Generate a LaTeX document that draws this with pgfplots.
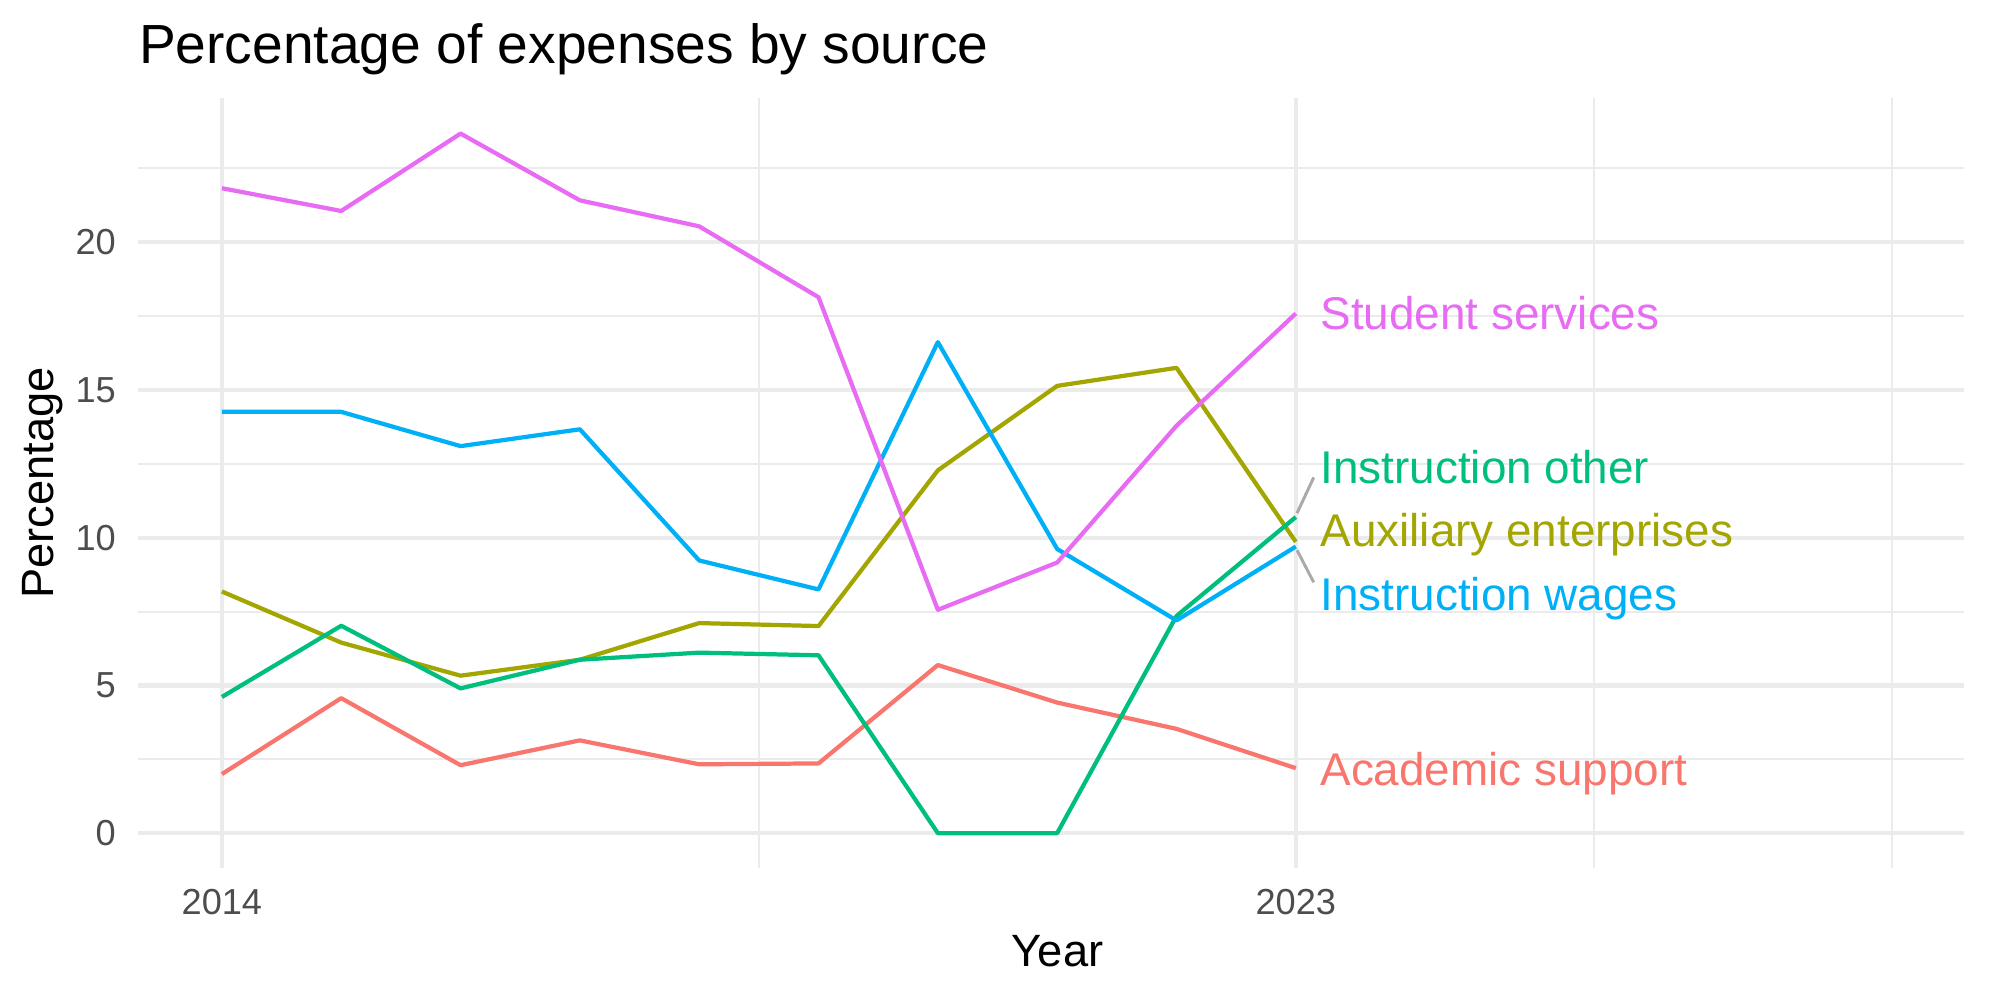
\documentclass[border=0pt]{standalone}
\usepackage{fontspec}
\setmainfont{Liberation Sans}
\usepackage{pgfplots}
\pgfplotsset{compat=1.18}
\definecolor{cAS}{HTML}{F8766D}
\definecolor{cAE}{HTML}{A3A500}
\definecolor{cIO}{HTML}{00BF7D}
\definecolor{cIW}{HTML}{00B0F6}
\definecolor{cSS}{HTML}{E76BF3}
\definecolor{gridc}{HTML}{EBEBEB}
\definecolor{tickc}{HTML}{4D4D4D}
\definecolor{segc}{HTML}{AAAAAA}
\begin{document}
\begin{tikzpicture}
\path[use as bounding box] (0,0) rectangle (505.9pt,252.9pt);
\begin{axis}[
  at={(35.0pt,33.3pt)}, anchor=south west,
  width=461.8pt, height=194.9pt, scale only axis,
  xmin=2013.3, xmax=2028.6, ymin=-1.1855, ymax=24.8955,
  axis line style={draw=none},
  xtick={2014,2023}, xticklabels={2014,2023},
  minor xtick={2018.5,2025.5,2028},
  ytick={0,5,10,15,20},
  minor ytick={2.5,7.5,12.5,17.5,22.5},
  major tick length=0pt, minor tick length=0pt,
  grid=both,
  major grid style={draw=gridc, line width=1.07pt},
  minor grid style={draw=gridc, line width=0.53pt},
  tick label style={font=\fontsize{9.15}{11}\selectfont, text=tickc},
  xticklabel style={anchor=base, yshift=-11.8pt, inner sep=0pt},
  yticklabel style={anchor=east, xshift=-5.5pt, inner sep=0pt},
  /pgf/number format/assume math mode=true,
  clip=false,
  every axis plot/.append style={line width=1.07pt, line join=round, mark=none},
]
\addplot[cAS] coordinates {(2014,2.00)(2015,4.57)(2016,2.30)(2017,3.14)(2018,2.33)(2019,2.36)(2020,5.69)(2021,4.42)(2022,3.53)(2023,2.20)};
\addplot[cAE] coordinates {(2014,8.18)(2015,6.45)(2016,5.33)(2017,5.87)(2018,7.11)(2019,7.01)(2020,12.28)(2021,15.14)(2022,15.75)(2023,9.86)};
\addplot[cIO] coordinates {(2014,4.61)(2015,7.02)(2016,4.90)(2017,5.87)(2018,6.11)(2019,6.02)(2020,0)(2021,0)(2022,7.35)(2023,10.70)};
\addplot[cIW] coordinates {(2014,14.26)(2015,14.26)(2016,13.10)(2017,13.67)(2018,9.23)(2019,8.25)(2020,16.62)(2021,9.62)(2022,7.20)(2023,9.70)};
\addplot[cSS] coordinates {(2014,21.83)(2015,21.06)(2016,23.68)(2017,21.42)(2018,20.54)(2019,18.14)(2020,7.56)(2021,9.16)(2022,13.79)(2023,17.59)};
\addplot[segc, line width=0.75pt] coordinates {(2023.01,10.83)(2023.15,12.04)};
\addplot[segc, line width=0.75pt] coordinates {(2023.01,9.58)(2023.15,8.49)};
\begin{scope}[every node/.style={anchor=base west, inner sep=0pt, font=\fontsize{11.6}{13}\selectfont}]
\node[text=cSS] at (axis cs:2023.2,17.05) {Student services};
\node[text=cIO] at (axis cs:2023.2,11.84) {Instruction other};
\node[text=cAE] at (axis cs:2023.2,9.69) {Auxiliary enterprises};
\node[text=cIW] at (axis cs:2023.2,7.55) {Instruction wages};
\node[text=cAS] at (axis cs:2023.2,1.62) {Academic support};
\end{scope}
\end{axis}
\node[anchor=base west, inner sep=0pt, font=\fontsize{13.95}{16}\selectfont] at (35.0pt,236.9pt) {Percentage of expenses by source};
\node[anchor=base, inner sep=0pt, font=\fontsize{11.45}{13}\selectfont] at (267.5pt,8.5pt) {Year};
\node[rotate=90, anchor=base, inner sep=0pt, font=\fontsize{11.45}{13}\selectfont] at (13.6pt,130.75pt) {Percentage};
\end{tikzpicture}
\end{document}
